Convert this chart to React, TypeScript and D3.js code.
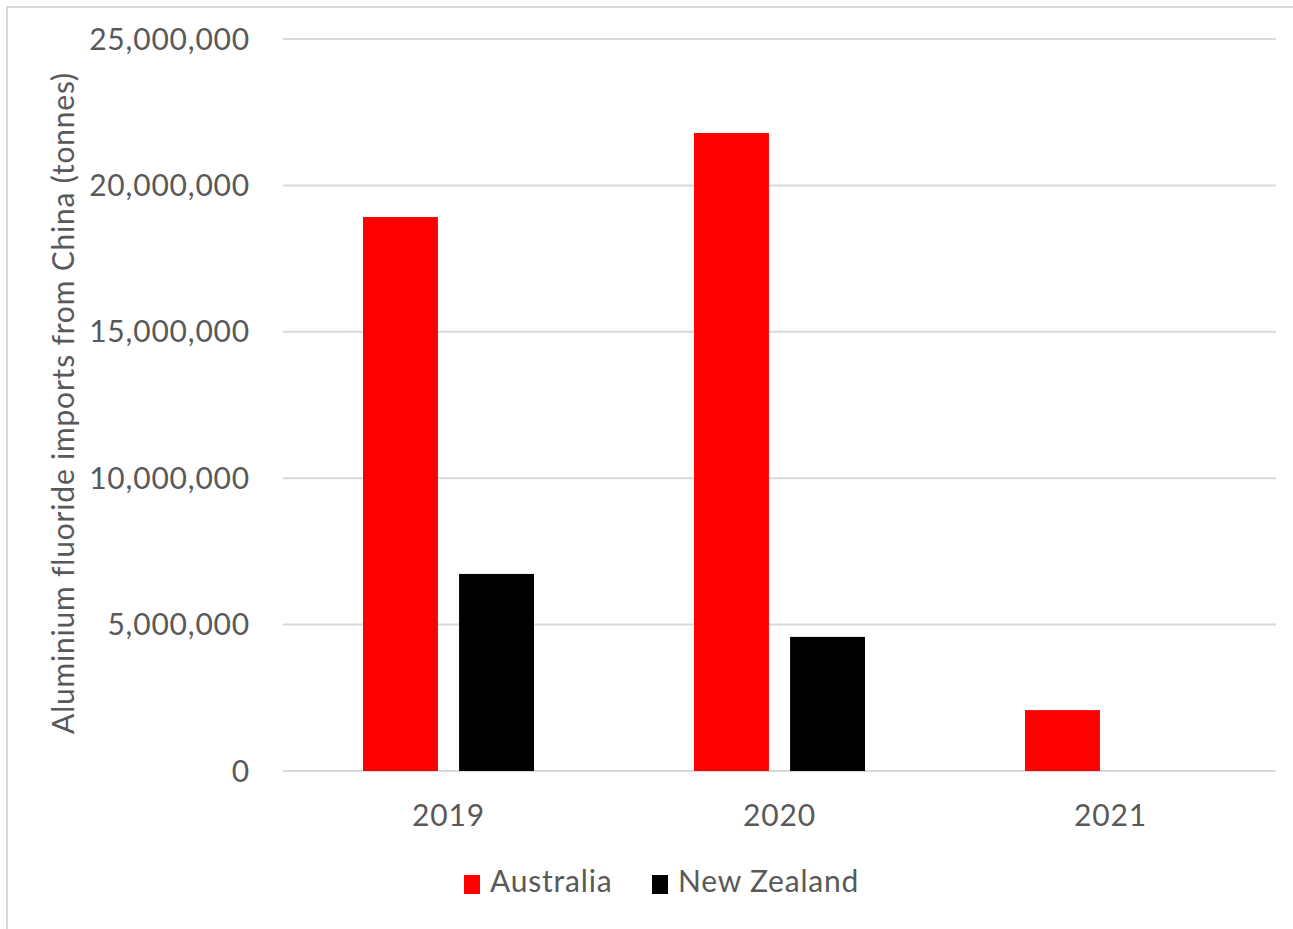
import React from "react";
import * as d3 from "d3";

const categories = ["2019", "2020", "2021"];
const seriesNames = ["Australia", "New Zealand"];
const australia = [18920000, 21790000, 2080000];
const newZealand = [6730000, 4580000, 0];
const yTicks = [0, 5000000, 10000000, 15000000, 20000000, 25000000];
const colors = ["#ff0000", "#000000"];

const W = 1293;
const H = 929;
const FONT = "Lato, 'Open Sans', sans-serif";
const TEXT = "#595959";
const FS = 30;
const LS = 0.8;

export default function App() {
  const left = 283, right = 1276, top = 39, bottom = 771;
  const y = d3.scaleLinear().domain([0, 25000000]).range([bottom, top]);
  const x = d3.scaleBand().domain(categories).range([left, right]);
  const inner = d3.scaleBand().domain(seriesNames).range([-85.5, 85.5]).paddingInner(0.22);
  const fmt = d3.format(",");
  const series = [australia, newZealand];

  return (
    <svg width={W} height={H} style={{ position: "absolute", left: 0, top: 0, background: "#fff" }}>
      <rect x={7} y={7} width={W} height={H} fill="#fff" stroke="#d9d9d9" strokeWidth={2} />
      {yTicks.map((t) => (
        <g key={t}>
          <line x1={left} x2={right} y1={y(t)} y2={y(t)} stroke="#d9d9d9" strokeWidth={2} />
          <text x={250} y={y(t)} dy="0.35em" textAnchor="end" fontFamily={FONT} fontSize={FS} letterSpacing={LS} fill={TEXT}>
            {fmt(t)}
          </text>
        </g>
      ))}
      {categories.map((c, i) => (
        <g key={c}>
          {series.map((s, j) =>
            s[i] > 0 ? (
              <rect
                key={j}
                x={(x(c) as number) + x.bandwidth() / 2 + (inner(seriesNames[j]) as number)}
                y={y(s[i])}
                width={inner.bandwidth()}
                height={y(0) - y(s[i])}
                fill={colors[j]}
              />
            ) : null
          )}
          <text
            x={(x(c) as number) + x.bandwidth() / 2}
            y={815}
            dy="0.35em"
            textAnchor="middle"
            fontFamily={FONT}
            fontSize={FS}
            letterSpacing={LS}
            fill={TEXT}
          >
            {c}
          </text>
        </g>
      ))}
      <text
        transform={`translate(63,403) rotate(-90)`}
        textAnchor="middle"
        dy="0.35em"
        fontFamily={FONT}
        fontSize={FS}
        letterSpacing={LS}
        fill={TEXT}
      >
        Aluminium fluoride imports from China (tonnes)
      </text>
      {seriesNames.map((n, j) => {
        const lx = [464, 652][j];
        return (
          <g key={n}>
            <rect x={lx} y={875} width={16} height={19} fill={colors[j]} />
            <text x={lx + 26} y={881} dy="0.35em" fontFamily={FONT} fontSize={FS} letterSpacing={LS} fill={TEXT}>
              {n}
            </text>
          </g>
        );
      })}
    </svg>
  );
}
